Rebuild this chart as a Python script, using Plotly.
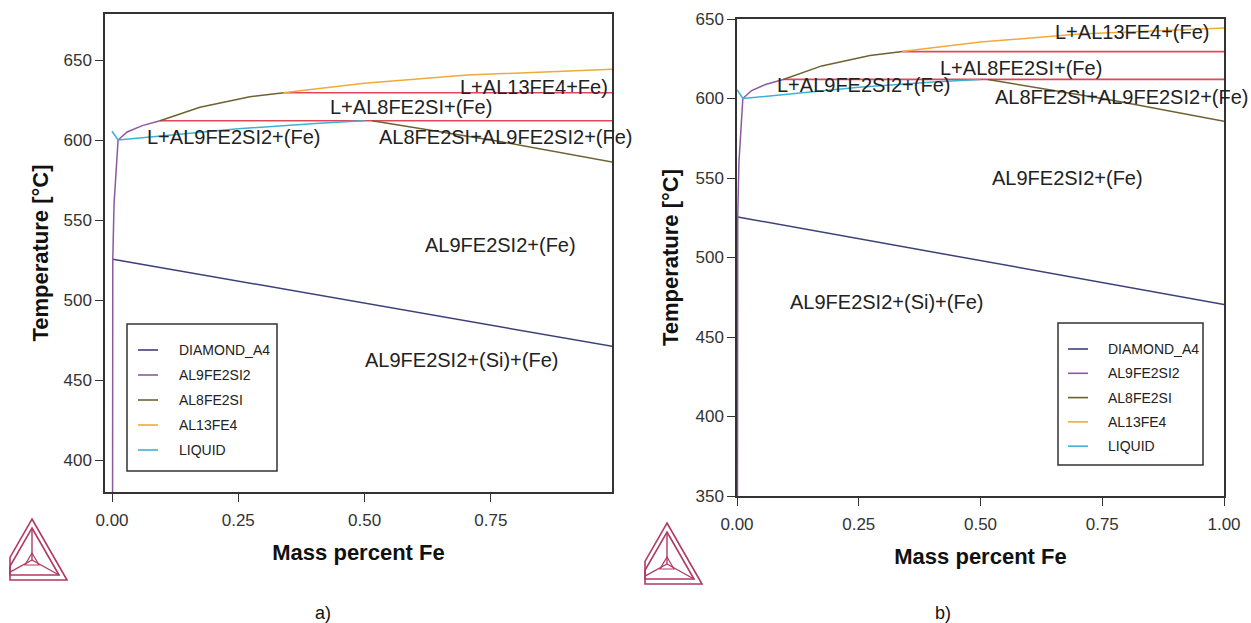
import plotly.graph_objects as go

W, H = 1251, 623
FONT = "Liberation Sans, Arial, sans-serif"

# ---------------- data (mass percent Fe, temperature in °C) ----------------
phases = ["DIAMOND_A4", "AL9FE2SI2", "AL8FE2SI", "AL13FE4", "LIQUID"]
phase_colors = ["#3d4078", "#8b5a9e", "#6e6232", "#f0a93a", "#3eb1d6"]

diamond_x = [0.0015, 0.5, 1.0]
diamond_t = [525.5, 498.0, 470.5]

al9_x = [0.001, 0.0015, 0.004, 0.012, None, 0.012, 0.03, 0.06, 0.095]
al9_t = [350.0, 525.0, 560.0, 600.0, None, 600.0, 605.0, 609.0, 612.0]

al8_x = [0.095, 0.174, 0.273, 0.34, None, 0.515, 0.768, 1.0]
al8_t = [612.0, 620.5, 627.0, 629.5, None, 612.0, 599.0, 585.7]

al13_x = [0.34, 0.372, 0.5, 0.703, 0.99, 1.0]
al13_t = [629.5, 630.8, 635.5, 640.6, 644.2, 644.3]

liquid_x = [0.0, 0.012, None, 0.012, 0.109, 0.25, 0.41, 0.5]
liquid_t = [605.5, 600.0, None, 600.0, 603.0, 607.0, 610.5, 612.0]

invariant_x = [0.34, 1.0, None, 0.095, 1.0]
invariant_t = [629.5, 629.5, None, 612.0, 612.0]

phase_x = [diamond_x, al9_x, al8_x, al13_x, liquid_x]
phase_t = [diamond_t, al9_t, al8_t, al13_t, liquid_t]

# region labels: (text, x, T) for each panel
labels_a = [
    ("L+AL13FE4+Fe)", 0.685, 633.1),
    ("L+AL8FE2SI+(Fe)", 0.428, 620.6),
    ("L+AL9FE2SI2+(Fe)", 0.065, 601.9),
    ("AL8FE2SI+AL9FE2SI2+(Fe)", 0.525, 601.9),
    ("AL9FE2SI2+(Fe)", 0.616, 534.4),
    ("AL9FE2SI2+(Si)+(Fe)", 0.497, 462.5),
]
labels_b = [
    ("L+AL13FE4+(Fe)", 0.649, 641.8),
    ("L+AL8FE2SI+(Fe)", 0.413, 619.2),
    ("L+AL9FE2SI2+(Fe)", 0.078, 608.5),
    ("AL8FE2SI+AL9FE2SI2+(Fe)", 0.525, 600.9),
    ("AL9FE2SI2+(Fe)", 0.520, 550.0),
    ("AL9FE2SI2+(Si)+(Fe)", 0.105, 472.0),
]

xticks_a = [0.0, 0.25, 0.5, 0.75]
xticks_b = [0.0, 0.25, 0.5, 0.75, 1.0]
yticks_a = [400, 450, 500, 550, 600, 650]
yticks_b = [350, 400, 450, 500, 550, 600, 650]

# ---------------- figure ----------------
fig = go.Figure()

panels = [("x", "y", labels_a), ("x2", "y2", labels_b)]
for pi, (xa, ya, labs) in enumerate(panels):
    fig.add_trace(go.Scatter(x=invariant_x, y=invariant_t, mode="lines",
                             line=dict(color="#e0485a", width=1.6),
                             xaxis=xa, yaxis=ya, showlegend=False, hoverinfo="skip"))
    for name, col, xs, ts in zip(phases, phase_colors, phase_x, phase_t):
        fig.add_trace(go.Scatter(x=xs, y=ts, mode="lines", name=name,
                                 line=dict(color=col, width=1.5),
                                 xaxis=xa, yaxis=ya, showlegend=False))
    for txt, lx, lt in labs:
        fig.add_annotation(text=txt, x=lx, y=lt, xref=xa, yref=ya,
                           xanchor="left", yanchor="middle", showarrow=False,
                           font=dict(family=FONT, size=20, color="#222222"))

def px_x(p):
    return p / W

def px_y(p):
    return 1 - p / H

axis_common = dict(showline=True, mirror=True, linecolor="#333333", linewidth=1.5,
                   ticks="outside", ticklen=8, tickwidth=1.3, tickcolor="#333333",
                   showgrid=False, zeroline=False, automargin=False,
                   tickfont=dict(family=FONT, size=17, color="#333333"))
title_font = dict(family=FONT, size=22, color="#111111")

fig.update_layout(
    width=W, height=H, autosize=False,
    margin=dict(l=0, r=0, t=0, b=0, pad=0, autoexpand=False),
    paper_bgcolor="white", plot_bgcolor="white",
    font=dict(family=FONT),
    showlegend=False,
    xaxis=dict(domain=[px_x(105), px_x(612)], range=[-0.0139, 0.990], anchor="y",
               tickvals=xticks_a, ticktext=[f"{v:.2f}" for v in xticks_a],
               ticklabelstandoff=4,
               title=dict(text="<b>Mass percent Fe</b>", font=title_font, standoff=15),
               **axis_common),
    yaxis=dict(domain=[px_y(492), px_y(14)], range=[380, 678.75], anchor="x",
               tickvals=yticks_a,
               title=dict(text="<b>Temperature [°C]</b>", font=title_font, standoff=9),
               **axis_common),
    xaxis2=dict(domain=[px_x(737), px_x(1224)], range=[0, 1], anchor="y2",
                tickvals=xticks_b, ticktext=[f"{v:.2f}" for v in xticks_b],
                ticklabelstandoff=4,
                title=dict(text="<b>Mass percent Fe</b>", font=title_font, standoff=15),
                **axis_common),
    yaxis2=dict(domain=[px_y(496), px_y(19)], range=[350, 650], anchor="x2",
                tickvals=yticks_b,
                title=dict(text="<b>Temperature [°C]</b>", font=title_font, standoff=11),
                **axis_common),
)

# ---------------- legends (box, line samples, names) ----------------
def add_legend(x0, y0, x1, y1, first_y, step, lx0, lx1, tx):
    fig.add_shape(type="rect", xref="paper", yref="paper",
                  x0=px_x(x0), x1=px_x(x1), y0=px_y(y1), y1=px_y(y0),
                  line=dict(color="#333333", width=1.5), fillcolor="white", layer="above")
    for i, (name, col) in enumerate(zip(phases, phase_colors)):
        yy = first_y + i * step
        fig.add_shape(type="line", xref="paper", yref="paper",
                      x0=px_x(lx0), x1=px_x(lx1), y0=px_y(yy), y1=px_y(yy),
                      line=dict(color=col, width=1.6), layer="above")
        fig.add_annotation(text=name, x=px_x(tx), y=px_y(yy), xref="paper", yref="paper",
                           xanchor="left", yanchor="middle", showarrow=False,
                           font=dict(family=FONT, size=14, color="#222222"))

add_legend(127, 324, 277, 471, 350, 25, 138, 158, 177)
add_legend(1058, 323, 1203, 465, 349, 24.3, 1068, 1088, 1106)

# panel captions
for cap, cx in [("a)", 323), ("b)", 943)]:
    fig.add_annotation(text=cap, x=px_x(cx), y=px_y(613), xref="paper", yref="paper",
                       showarrow=False, xanchor="center", yanchor="middle",
                       font=dict(family=FONT, size=18, color="#111111"))

# ---------------- Thermo-Calc style logo (decoration) ----------------
def clip_poly(pts, xcut):
    out = []
    n = len(pts)
    for i in range(n):
        a, b = pts[i], pts[(i + 1) % n]
        ain, bin_ = a[0] >= xcut, b[0] >= xcut
        if ain:
            out.append(a)
        if ain != bin_:
            t = (xcut - a[0]) / (b[0] - a[0])
            out.append((xcut, a[1] + t * (b[1] - a[1])))
    return out

def clip_seg(a, b, xcut):
    if a[0] < xcut and b[0] < xcut:
        return None
    if a[0] < xcut:
        t = (xcut - a[0]) / (b[0] - a[0])
        a = (xcut, a[1] + t * (b[1] - a[1]))
    if b[0] < xcut:
        t = (xcut - b[0]) / (a[0] - b[0])
        b = (xcut, b[1] + t * (a[1] - b[1]))
    return a, b

def path_from(pts, closed=True):
    s = "M " + " L ".join(f"{px_x(x):.5f},{px_y(y):.5f}" for x, y in pts)
    return s + (" Z" if closed else "")

def add_logo(ax, ay, xcut):
    col = "#b03a64"
    outer = [(ax, ay), (ax + 35, ay + 61), (ax - 35, ay + 61)]
    inner = [(ax, ay + 9), (ax + 27, ay + 56), (ax - 27, ay + 56)]
    centre = (ax, ay + 41)
    for poly in (outer, inner):
        fig.add_shape(type="path", path=path_from(clip_poly(poly, xcut)),
                      xref="paper", yref="paper", line=dict(color=col, width=1.6))
    for v in inner:
        seg = clip_seg(centre, v, xcut)
        if seg:
            fig.add_shape(type="path", path=path_from(list(seg), closed=False),
                          xref="paper", yref="paper", line=dict(color=col, width=1.4))
    small = [(ax, ay + 34), (ax + 7, ay + 46), (ax - 7, ay + 46)]
    fig.add_shape(type="path", path=path_from(clip_poly(small, xcut)),
                  xref="paper", yref="paper", line=dict(color=col, width=1.2))

add_logo(32, 519, 10)
add_logo(667, 523, 645)

fig.write_html("out.html", config={"displayModeBar": False},
               post_script="document.body.style.margin='0';document.body.style.padding='0';")
